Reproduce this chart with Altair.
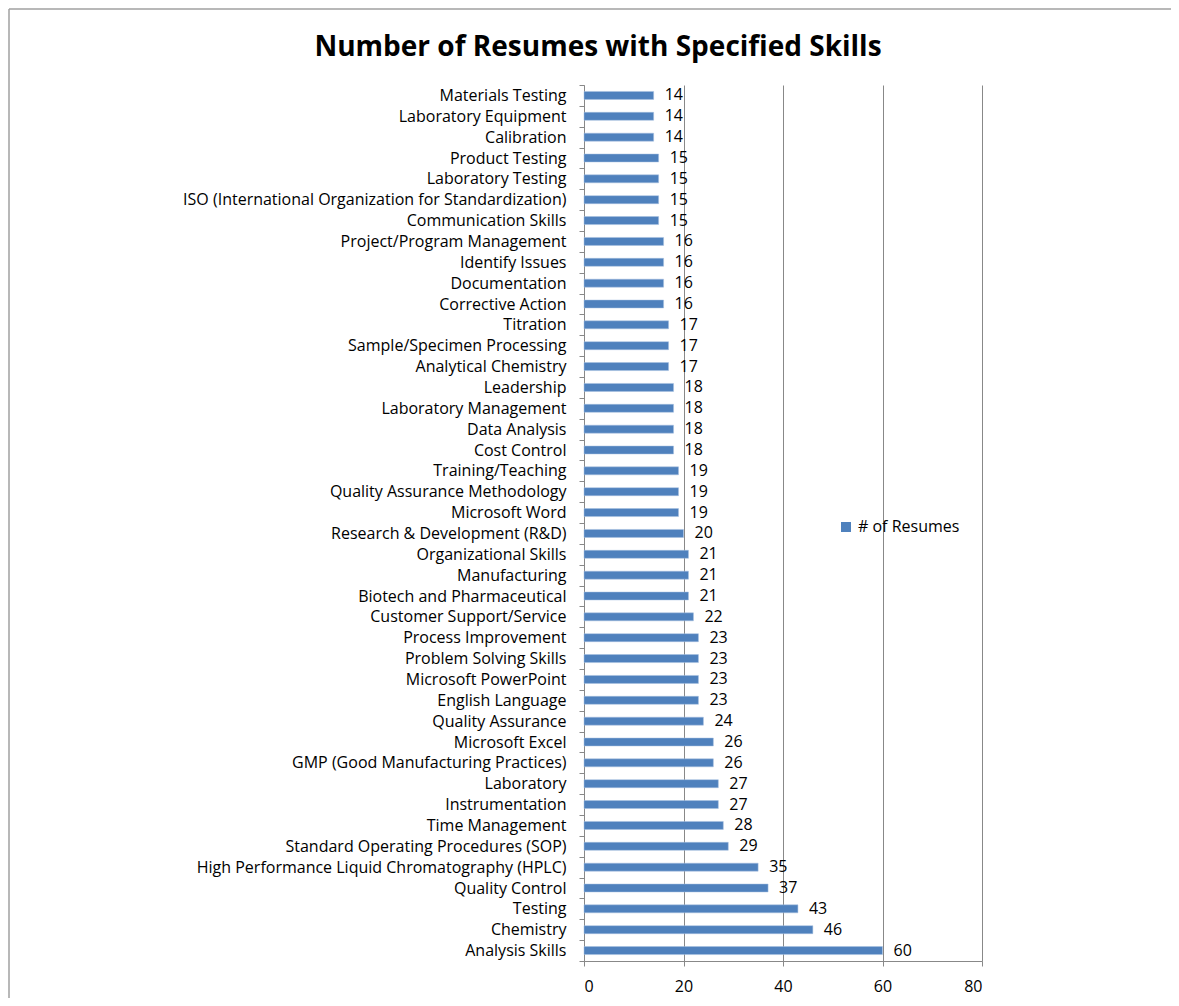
import altair as alt
import pandas as pd

skills = [
    "Materials Testing", "Laboratory Equipment", "Calibration", "Product Testing",
    "Laboratory Testing", "ISO (International Organization for Standardization)",
    "Communication Skills", "Project/Program Management", "Identify Issues",
    "Documentation", "Corrective Action", "Titration", "Sample/Specimen Processing",
    "Analytical Chemistry", "Leadership", "Laboratory Management", "Data Analysis",
    "Cost Control", "Training/Teaching", "Quality Assurance Methodology",
    "Microsoft Word", "Research & Development (R&D)", "Organizational Skills",
    "Manufacturing", "Biotech and Pharmaceutical", "Customer Support/Service",
    "Process Improvement", "Problem Solving Skills", "Microsoft PowerPoint",
    "English Language", "Quality Assurance", "Microsoft Excel",
    "GMP (Good Manufacturing Practices)", "Laboratory", "Instrumentation",
    "Time Management", "Standard Operating Procedures (SOP)",
    "High Performance Liquid Chromatography (HPLC)", "Quality Control",
    "Testing", "Chemistry", "Analysis Skills",
]
counts = [
    14, 14, 14, 15, 15, 15, 15, 16, 16, 16, 16, 17, 17, 17, 18, 18, 18, 18,
    19, 19, 19, 20, 21, 21, 21, 22, 23, 23, 23, 23, 24, 26, 26, 27, 27, 28,
    29, 35, 37, 43, 46, 60,
]
series = ["# of Resumes"] * len(skills)
x_ticks = [0, 20, 40, 60, 80]

df = pd.DataFrame({"skill": skills, "count": counts, "series": series})

FONT = "Open Sans"
FS = 16
GRAY = "#888888"

y_enc = alt.Y(
    "skill:N", sort=None, title=None,
    scale=alt.Scale(paddingInner=0, paddingOuter=0),
    axis=alt.Axis(
        labelFontSize=FS, labelColor="#000000", labelFont=FONT, labelLimit=1000,
        tickSize=5, tickColor=GRAY, domainColor=GRAY, labelPadding=13,
        tickBand="extent", grid=False,
    ),
)
x_enc = alt.X(
    "count:Q", title=None,
    scale=alt.Scale(domain=[0, 80], nice=False),
    axis=alt.Axis(
        values=x_ticks, grid=True, gridColor=GRAY, tickSize=5, tickColor=GRAY,
        domainColor=GRAY, labelFontSize=FS, labelColor="#000000", labelFont=FONT,
        labelPadding=12,
    ),
)

bars = alt.Chart(df).mark_bar(size=8, stroke="#A8C0E0", strokeWidth=0.5).encode(
    y=y_enc,
    x=x_enc,
    color=alt.Color(
        "series:N", title=None,
        scale=alt.Scale(range=["#4F81BD"]),
        legend=alt.Legend(
            orient="none", legendX=254, legendY=434, symbolType="square",
            symbolSize=100, labelFontSize=FS, labelFont=FONT, labelColor="#000000",
            symbolStrokeWidth=0,
        ),
    ),
)

labels = alt.Chart(df).mark_text(
    align="left", baseline="middle", dx=11, fontSize=FS, font=FONT, color="#000000"
).encode(
    y=alt.Y("skill:N", sort=None),
    x=alt.X("count:Q"),
    text=alt.Text("count:Q"),
)

frame = alt.Data(values=[{}])
border_top = alt.Chart(frame).mark_rule(stroke="#A0A0A0", strokeWidth=1.5).encode(
    x=alt.value(-575), x2=alt.value(700), y=alt.value(-76),
)
border_left = alt.Chart(frame).mark_rule(stroke="#A0A0A0", strokeWidth=1.5).encode(
    x=alt.value(-575), y=alt.value(-76), y2=alt.value(1000),
)

chart = alt.layer(border_top, border_left, bars, labels).properties(
    width=398, height=876,
    autosize=alt.AutoSizeParams(type="none"),
    padding={"left": 576, "top": 77, "right": 189, "bottom": 37},
    title=alt.TitleParams(
        "Number of Resumes with Specified Skills", fontSize=28, font=FONT,
        fontWeight="bold", color="#000000", anchor="middle", dx=-185, offset=0, dy=54,
    ),
).configure_view(strokeWidth=0)

chart.save("out.html", embed_options={"renderer": "svg", "actions": False})
